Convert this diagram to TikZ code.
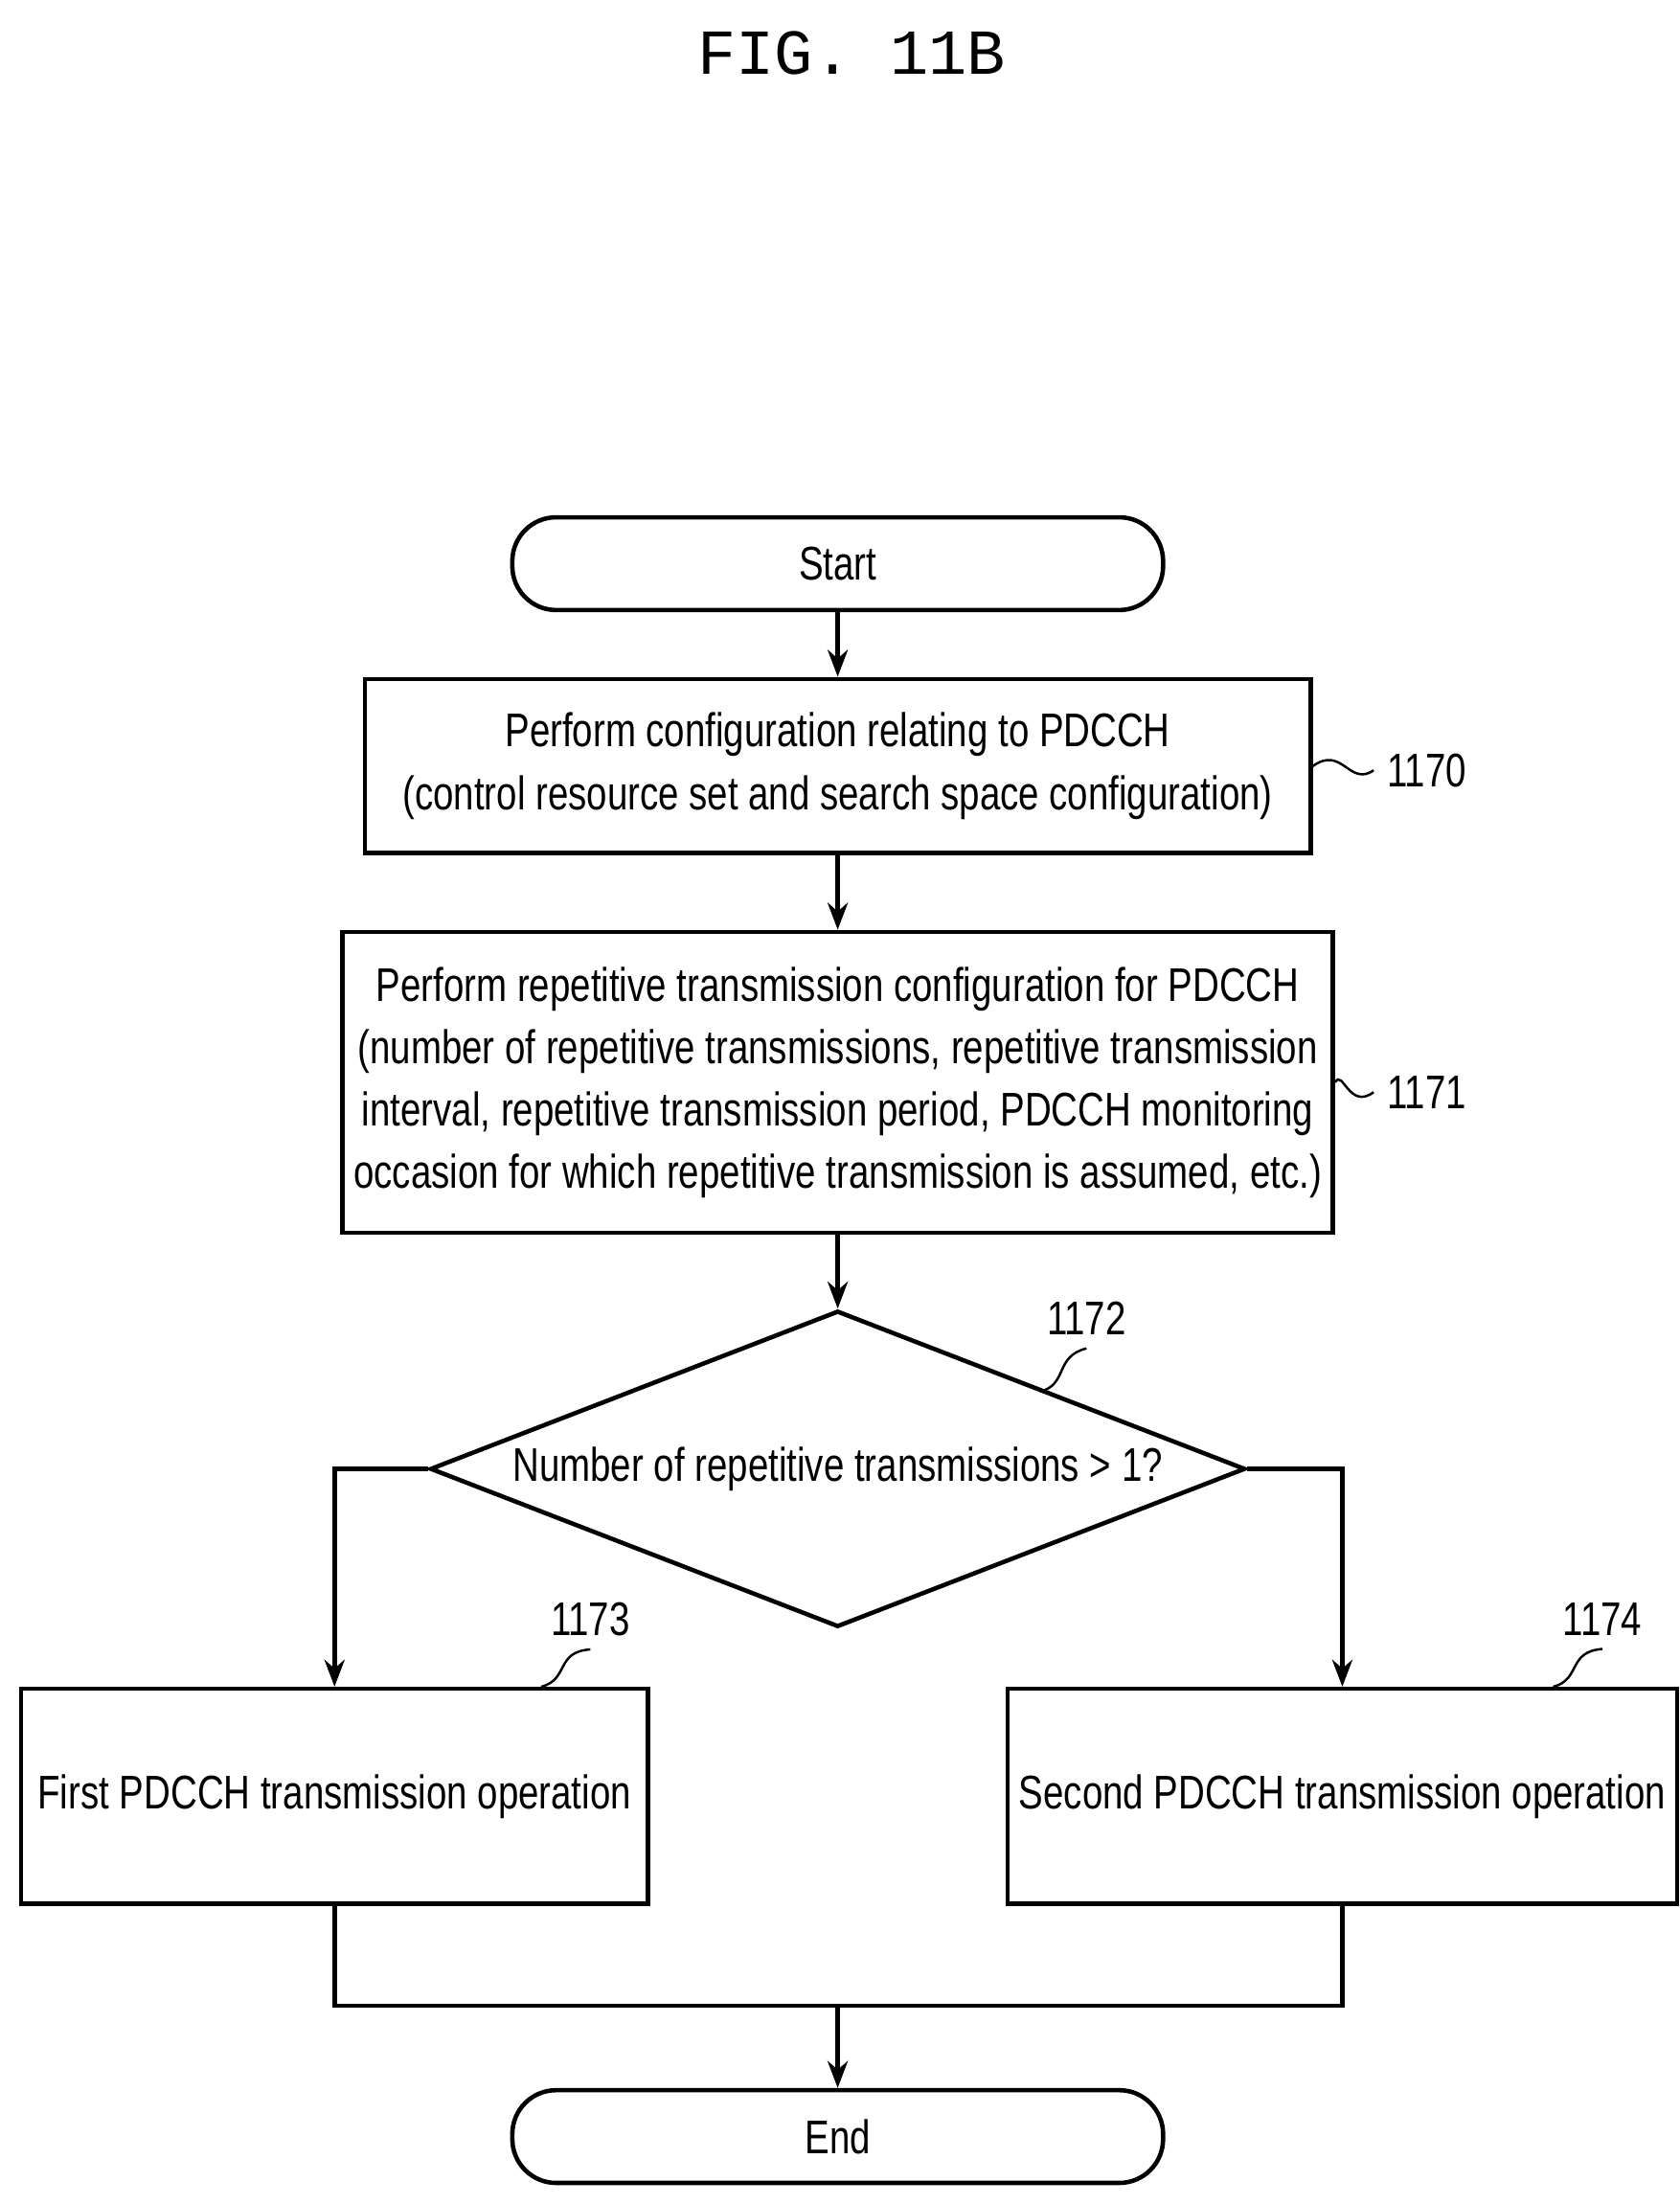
\documentclass[tikz,border=0pt]{standalone}
\usepackage{fontspec}
\setmainfont{Liberation Sans}[FakeStretch=0.78]
\setmonofont{Liberation Mono}
\usetikzlibrary{shapes.geometric,arrows.meta}
\begin{document}
\begin{tikzpicture}[x=0.01465cm,y=-0.01465cm,line width=1.3pt,
  box/.style={draw,rectangle,align=center,font=\fontsize{14}{18.5}\selectfont},
  term/.style={draw,rounded corners=13pt,font=\fontsize{14}{18}\selectfont},
  arr/.style={-{Stealth[length=8pt,width=6pt]}},
  lab/.style={font=\fontsize{14}{16}\selectfont},
  sq/.style={line width=0.7pt}]
\useasboundingbox (0,0) rectangle (1195,1568);
\node[font=\ttfamily\fontsize{19}{20}\selectfont] (title) at (606,38) {FIG. 11B};
\node[term,minimum width=463*0.01465cm,minimum height=66*0.01465cm] (start) at (596,401) {Start};
\node[box,minimum width=673*0.01465cm,minimum height=124*0.01465cm] (b1) at (596,545) {Perform configuration relating to PDCCH\\(control resource set and search space configuration)};
\node[box,minimum width=673*0.01465cm,minimum height=214*0.01465cm] (b2) at (596,770) {Perform repetitive transmission configuration for PDCCH\\(number of repetitive transmissions, repetitive transmission\\interval, repetitive transmission period, PDCCH monitoring\\occasion for which repetitive transmission is assumed, etc.)};
\node[draw,diamond,aspect=2.58,inner sep=0pt,minimum width=580*0.01465cm,minimum height=225*0.01465cm,font=\fontsize{14}{18}\selectfont] (d) at (596,1045) {Number of repetitive transmissions > 1?};
\node[box,minimum width=446*0.01465cm,minimum height=153*0.01465cm] (b3) at (238,1278) {First PDCCH transmission operation};
\node[box,minimum width=445*0.01465cm,minimum height=153*0.01465cm] (b4) at (955,1278) {Second PDCCH transmission operation};
\node[term,minimum width=463*0.01465cm,minimum height=66*0.01465cm] (end) at (596,1520) {End};
\coordinate (m) at (596,1427);
\draw[arr] (start) -- (b1);
\draw[arr] (b1) -- (b2);
\draw[arr] (b2) -- (d);
\draw[arr] (d.west) -| (b3.north);
\draw[arr] (d.east) -| (b4.north);
\draw (b3.south) |- (m) -| (b4.south);
\draw[arr] (m) -- (end);
\node[lab] (l0) at (1015,548) {1170};
\node[lab] (l1) at (1015,777) {1171};
\node[lab] (l2) at (773,938) {1172};
\node[lab] (l3) at (420,1152) {1173};
\node[lab] (l4) at (1140,1152) {1174};
\draw[sq] (b1.east) .. controls (955,530) and (960,560) .. (l0.west);
\draw[sq] (b2.east) .. controls (955,760) and (960,790) .. (l1.west);
\draw[sq] (740,990) .. controls (760,985) and (750,965) .. (l2.south);
\draw[sq] (385,1200) .. controls (405,1195) and (395,1175) .. (l3.south);
\draw[sq] (1105,1200) .. controls (1125,1195) and (1115,1175) .. (l4.south);
\end{tikzpicture}
\end{document}
